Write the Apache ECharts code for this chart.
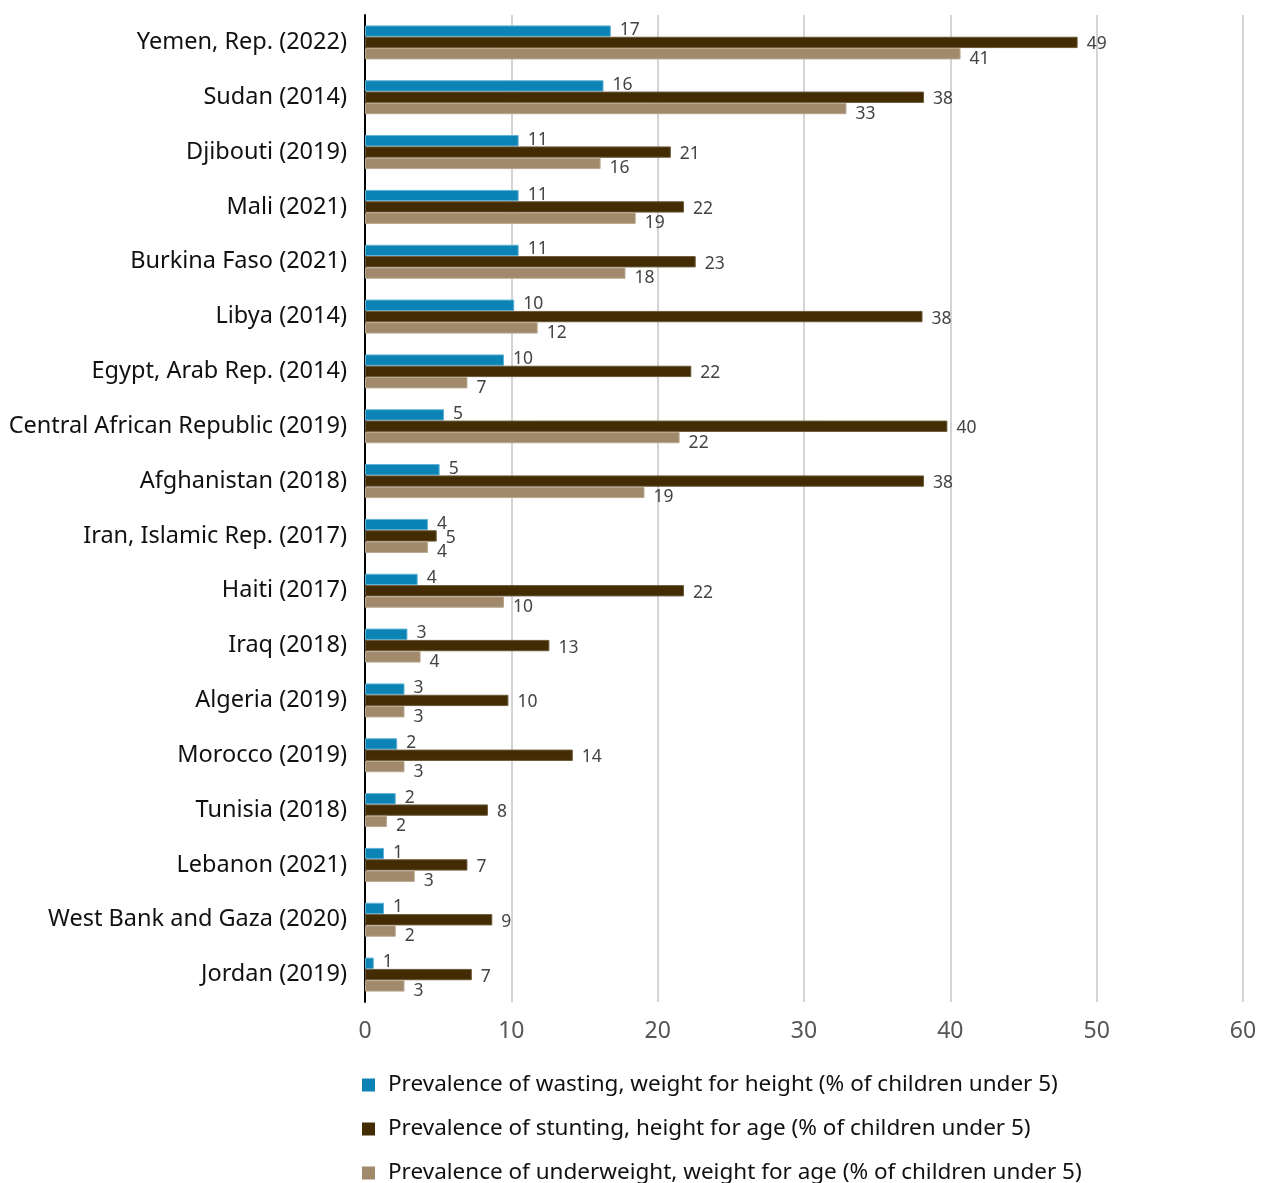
<!DOCTYPE html>
<html>
<head>
<meta charset="utf-8">
<script src="https://cdn.jsdelivr.net/npm/echarts@6/dist/echarts.min.js"></script>
<style>
  html, body { margin: 0; padding: 0; background: #ffffff; }
  #chart { width: 1263px; height: 1183px; }
</style>
</head>
<body>
<div id="chart"></div>
<script>
// Child malnutrition indicators by country (latest survey year)
const countries = [
  'Yemen, Rep. (2022)', 'Sudan (2014)', 'Djibouti (2019)', 'Mali (2021)',
  'Burkina Faso (2021)', 'Libya (2014)', 'Egypt, Arab Rep. (2014)',
  'Central African Republic (2019)', 'Afghanistan (2018)', 'Iran, Islamic Rep. (2017)',
  'Haiti (2017)', 'Iraq (2018)', 'Algeria (2019)', 'Morocco (2019)',
  'Tunisia (2018)', 'Lebanon (2021)', 'West Bank and Gaza (2020)', 'Jordan (2019)'
];

const wasting = [16.8, 16.3, 10.5, 10.5, 10.5, 10.2, 9.5, 5.4, 5.1, 4.3, 3.6, 2.9, 2.7, 2.2, 2.1, 1.3, 1.3, 0.6];
const stunting = [48.7, 38.2, 20.9, 21.8, 22.6, 38.1, 22.3, 39.8, 38.2, 4.9, 21.8, 12.6, 9.8, 14.2, 8.4, 7.0, 8.7, 7.3];
const underweight = [40.7, 32.9, 16.1, 18.5, 17.8, 11.8, 7.0, 21.5, 19.1, 4.3, 9.5, 3.8, 2.7, 2.7, 1.5, 3.4, 2.1, 2.7];

const seriesNames = [
  'Prevalence of wasting, weight for height (% of children under 5)',
  'Prevalence of stunting, height for age (% of children under 5)',
  'Prevalence of underweight, weight for age (% of children under 5)'
];

const xTicks = { min: 0, max: 60, interval: 10 };

const FONT = '"Noto Sans", "Open Sans", sans-serif';

function barSeries(name, data, color, border, dy) {
  return {
    name: name,
    type: 'bar',
    data: data,
    barGap: '0%',
    barCategoryGap: '38%',
    itemStyle: { color: color, borderColor: border, borderWidth: 1 },
    label: {
      show: true,
      position: 'right',
      distance: 9,
      offset: [0, dy],
      color: '#444444',
      fontSize: 17.5,
      fontFamily: FONT,
      formatter: p => String(Math.round(p.value))
    },
    emphasis: { disabled: true }
  };
}

const chart = echarts.init(document.getElementById('chart'), null, { renderer: 'canvas' });
chart.setOption({
  animation: false,
  backgroundColor: '#ffffff',
  textStyle: { fontFamily: FONT },
  grid: { left: 365, right: 20, top: 15, bottom: 181, containLabel: false },
  legend: {
    orient: 'vertical',
    left: 357,
    top: 1068,
    height: 200,
    itemWidth: 13,
    itemHeight: 13,
    itemGap: 20,
    icon: 'rect',
    selectedMode: false,
    itemStyle: { borderWidth: 0 },
    textStyle: { fontSize: 22.5, lineHeight: 24, color: '#111111', fontFamily: FONT, padding: [0, 0, 0, 8] },
    data: seriesNames
  },
  xAxis: {
    type: 'value',
    min: xTicks.min,
    max: xTicks.max,
    interval: xTicks.interval,
    axisLine: { show: false },
    axisTick: { show: false },
    splitLine: { show: true, lineStyle: { color: '#d4d4d4', width: 2 } },
    axisLabel: { color: '#555555', fontSize: 23, margin: 18, fontFamily: FONT }
  },
  yAxis: {
    type: 'category',
    data: countries,
    inverse: true,
    axisLine: { show: true, lineStyle: { color: '#000000', width: 2 } },
    axisTick: { show: false },
    axisLabel: { color: '#111111', fontSize: 23.5, margin: 18, fontFamily: FONT }
  },
  series: [
    barSeries(seriesNames[0], wasting, '#0b84b5', '#5fb2d4', -1),
    barSeries(seriesNames[1], stunting, '#432c03', '#6b5a3a', 2),
    barSeries(seriesNames[2], underweight, '#a08a6b', '#b9a78e', 5)
  ]
});
</script>
</body>
</html>
